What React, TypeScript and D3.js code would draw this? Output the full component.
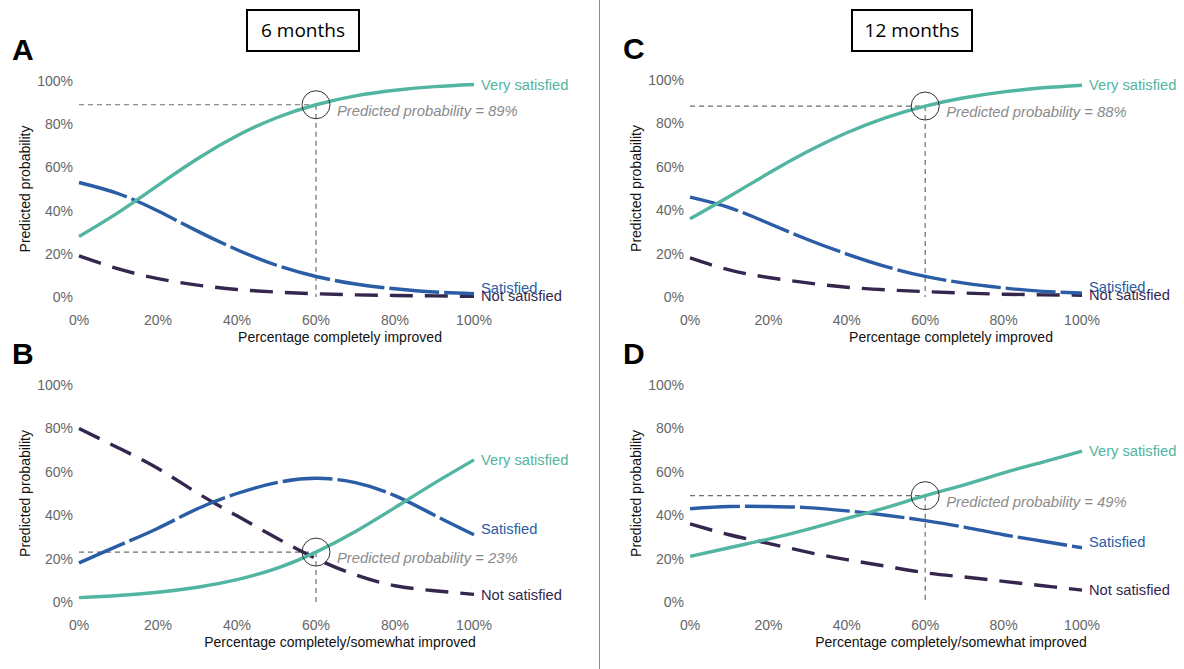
import React, { useEffect, useRef } from "react";
import * as d3 from "d3";

// x = percentage improved (0..100), y = predicted probability
const xPct = [0, 10, 20, 30, 40, 50, 60, 70, 80, 90, 100];

// 6 months, completely improved
const veryA = [0.28, 0.392, 0.517, 0.64, 0.746, 0.83, 0.89, 0.931, 0.957, 0.974, 0.984];
const satA = [0.53, 0.478, 0.398, 0.305, 0.219, 0.147, 0.095, 0.06, 0.038, 0.023, 0.015];
const notA = [0.19, 0.13, 0.085, 0.055, 0.035, 0.023, 0.015, 0.01, 0.007, 0.005, 0.003];

// 6 months, completely/somewhat improved
const veryB = [0.02, 0.03, 0.045, 0.068, 0.103, 0.155, 0.23, 0.325, 0.435, 0.548, 0.655];
const satB = [0.18, 0.26, 0.34, 0.43, 0.5, 0.55, 0.57, 0.55, 0.49, 0.4, 0.31];
const notB = [0.8, 0.71, 0.615, 0.502, 0.397, 0.295, 0.2, 0.125, 0.075, 0.052, 0.035];

// 12 months, completely improved
const veryC = [0.36, 0.463, 0.57, 0.67, 0.757, 0.827, 0.88, 0.918, 0.945, 0.964, 0.976];
const satC = [0.46, 0.412, 0.34, 0.265, 0.198, 0.14, 0.095, 0.064, 0.042, 0.026, 0.018];
const notC = [0.18, 0.125, 0.09, 0.065, 0.045, 0.033, 0.025, 0.018, 0.013, 0.01, 0.008];

// 12 months, completely/somewhat improved
const veryD = [0.21, 0.25, 0.29, 0.335, 0.385, 0.435, 0.49, 0.54, 0.595, 0.645, 0.695];
const satD = [0.43, 0.44, 0.44, 0.435, 0.42, 0.4, 0.375, 0.345, 0.31, 0.28, 0.25];
const notD = [0.36, 0.31, 0.27, 0.23, 0.195, 0.165, 0.135, 0.115, 0.095, 0.075, 0.055];

const seriesNames = ["Very satisfied", "Satisfied", "Not satisfied"];
const yTicks = [0, 0.2, 0.4, 0.6, 0.8, 1];
const xTicks = [0, 20, 40, 60, 80, 100];
const annotX = 60;
const annotVals = [0.89, 0.23, 0.88, 0.49];
const panelLetters = ["A", "B", "C", "D"];
const xTitles = [
  "Percentage completely improved",
  "Percentage completely/somewhat improved",
  "Percentage completely improved",
  "Percentage completely/somewhat improved",
];
const columnTitles = ["6 months", "12 months"];

const colors = ["#52b5a1", "#2b5ca6", "#35264e"];
const dashes = [null, "50 5", "23 12"];
const FONT = "'Liberation Sans', Arial, sans-serif";

const panelData = [
  [veryA, satA, notA],
  [veryB, satB, notB],
  [veryC, satC, notC],
  [veryD, satD, notD],
];

// plot boxes: [left, right, top, bottom]
const boxes = [
  [79, 474, 81, 297],
  [79, 474, 385, 602],
  [690, 1082, 80, 297],
  [690, 1082, 385, 602],
];

export default function App() {
  const ref = useRef<SVGSVGElement>(null);

  useEffect(() => {
    const svg = d3.select(ref.current);
    svg.selectAll("*").remove();

    svg.append("rect").attr("width", 1184).attr("height", 669).attr("fill", "#fff");

    // divider between columns
    svg.append("line")
      .attr("x1", 599.5).attr("x2", 599.5).attr("y1", 0).attr("y2", 669)
      .attr("stroke", "#8a8a8a").attr("stroke-width", 1);

    // column title boxes
    const titleBoxes = [[247, 10, 112, 41], [852, 10, 120, 41]];
    columnTitles.forEach((t, i) => {
      const [bx, by, bw, bh] = titleBoxes[i];
      svg.append("rect").attr("x", bx).attr("y", by).attr("width", bw).attr("height", bh)
        .attr("fill", "none").attr("stroke", "#000").attr("stroke-width", 2);
      svg.append("text").attr("x", bx + bw / 2).attr("y", 37).attr("text-anchor", "middle")
        .attr("font-family", "'Open Sans', sans-serif").attr("font-size", 19).attr("fill", "#000")
        .text(t);
    });

    panelData.forEach((series, p) => {
      const [l, r, t, b] = boxes[p];
      const x = d3.scaleLinear().domain([0, 100]).range([l, r]);
      const y = d3.scaleLinear().domain([0, 1]).range([b, t]);
      const g = svg.append("g");

      // panel letter
      g.append("text").attr("x", l - 67).attr("y", t - 21)
        .attr("font-family", FONT).attr("font-weight", "bold").attr("font-size", 30)
        .attr("fill", "#000").text(panelLetters[p]);

      // y ticks
      g.selectAll(".yt").data(yTicks).join("text")
        .attr("x", l - 6).attr("y", (d) => y(d)).attr("dy", "0.35em")
        .attr("text-anchor", "end").attr("font-family", FONT).attr("font-size", 14)
        .attr("fill", "#666").text((d) => d3.format(".0%")(d));

      // x ticks
      g.selectAll(".xt").data(xTicks).join("text")
        .attr("x", (d) => x(d)).attr("y", b + 28)
        .attr("text-anchor", "middle").attr("font-family", FONT).attr("font-size", 14)
        .attr("fill", "#666").text((d) => d + "%");

      // axis titles
      g.append("text").attr("x", l + 261).attr("y", b + 45).attr("text-anchor", "middle")
        .attr("font-family", FONT).attr("font-size", 14).attr("fill", "#111")
        .text(xTitles[p]);
      g.append("text")
        .attr("transform", `translate(${l - 49},${(t + b) / 2}) rotate(-90)`)
        .attr("text-anchor", "middle").attr("font-family", FONT).attr("font-size", 14)
        .attr("fill", "#111").text("Predicted probability");

      // annotation guides
      const av = annotVals[p];
      const px = x(annotX), py = y(av);
      g.append("line").attr("x1", l).attr("x2", px).attr("y1", py).attr("y2", py)
        .attr("stroke", "#6e6e6e").attr("stroke-width", 1.2).attr("stroke-dasharray", "5 4");
      g.append("line").attr("x1", px).attr("x2", px).attr("y1", py).attr("y2", b)
        .attr("stroke", "#6e6e6e").attr("stroke-width", 1.2).attr("stroke-dasharray", "5 4");

      // curves
      const line = d3.line<number>()
        .x((_, i) => x(xPct[i]))
        .y((d) => y(d))
        .curve(d3.curveNatural);

      [2, 1, 0].forEach((s) => {
        g.append("path").attr("d", line(series[s]) as string)
          .attr("fill", "none").attr("stroke", colors[s]).attr("stroke-width", 3.4)
          .attr("stroke-dasharray", dashes[s] ?? null);
      });

      // series labels
      series.forEach((vals, s) => {
        g.append("text").attr("x", r + 7).attr("y", y(vals[vals.length - 1]) + (s === 1 ? -6 : 0))
          .attr("dy", "0.35em").attr("font-family", FONT).attr("font-size", 14.7)
          .attr("fill", colors[s]).text(seriesNames[s]);
      });

      // circle + text
      g.append("circle").attr("cx", px).attr("cy", py).attr("r", 14)
        .attr("fill", "none").attr("stroke", "#333").attr("stroke-width", 1);
      g.append("text").attr("x", px + 21).attr("y", py + 6).attr("dy", "0.35em")
        .attr("font-family", FONT).attr("font-style", "italic").attr("font-size", 14.8)
        .attr("fill", "#8a8a8a").text(`Predicted probability = ${Math.round(av * 100)}%`);
    });
  }, []);

  return (
    <svg ref={ref} width={1184} height={669}
      style={{ position: "absolute", left: 0, top: 0, display: "block" }} />
  );
}
